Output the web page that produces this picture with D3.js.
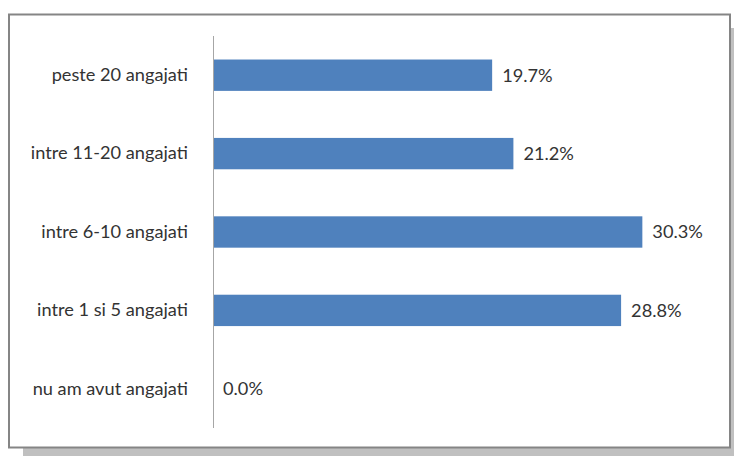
<!DOCTYPE html>
<html>
<head>
<meta charset="utf-8">
<script src="https://cdn.jsdelivr.net/npm/d3@7"></script>
<style>
  html, body { margin: 0; padding: 0; background: #ffffff; }
  svg { display: block; }
  text { font-family: Lato, "Open Sans", sans-serif; fill: #333333; }
</style>
</head>
<body>
<svg id="chart" width="734" height="456"></svg>
<script>
// Employees per firm: share of respondents (%)
const categories = [
  "peste 20 angajati",
  "intre 11-20 angajati",
  "intre 6-10 angajati",
  "intre 1 si 5 angajati",
  "nu am avut angajati"
];
const values = [19.7, 21.2, 30.3, 28.8, 0.0];
const valueLabels = ["19.7%", "21.2%", "30.3%", "28.8%", "0.0%"];

const svg = d3.select("#chart");
const fontSize = 18.2;

// Frame with drop shadow
svg.append("rect")
  .attr("x", 23).attr("y", 28)
  .attr("width", 711).attr("height", 428)
  .attr("fill", "#c0c0c0");
svg.append("rect")
  .attr("x", 9).attr("y", 14.5)
  .attr("width", 721).attr("height", 433)
  .attr("fill", "#ffffff")
  .attr("stroke", "#858585")
  .attr("stroke-width", 2);

const axisX = 213;
const x = d3.scaleLinear().domain([0, 35]).range([axisX, axisX + 35 * 14.17]);
const y = d3.scaleBand()
  .domain(categories)
  .range([36, 428])
  .paddingInner(0.6)
  .paddingOuter(0.3);

// Bars
svg.append("g").selectAll("rect")
  .data(categories)
  .join("rect")
  .attr("x", x(0))
  .attr("y", d => y(d))
  .attr("width", (d, i) => x(values[i]) - x(0))
  .attr("height", y.bandwidth())
  .attr("fill", "#4f81bd");

// Category axis
const axis = d3.axisLeft(y).tickSize(0).tickPadding(25);
const gAxis = svg.append("g")
  .attr("transform", `translate(${axisX},0)`)
  .call(axis);
gAxis.select(".domain")
  .attr("d", `M0.5,36V428`)
  .attr("stroke", "#a6a6a6")
  .attr("stroke-width", 1);
gAxis.selectAll(".tick text")
  .attr("font-size", fontSize)
  .attr("fill", "#333333")
  .style("font-family", "Lato, 'Open Sans', sans-serif");

// Value labels
svg.append("g").selectAll("text")
  .data(categories)
  .join("text")
  .attr("x", (d, i) => x(values[i]) + 10)
  .attr("y", d => y(d) + y.bandwidth() / 2)
  .attr("dy", "0.35em")
  .attr("font-size", fontSize)
  .text((d, i) => valueLabels[i]);
</script>
</body>
</html>
